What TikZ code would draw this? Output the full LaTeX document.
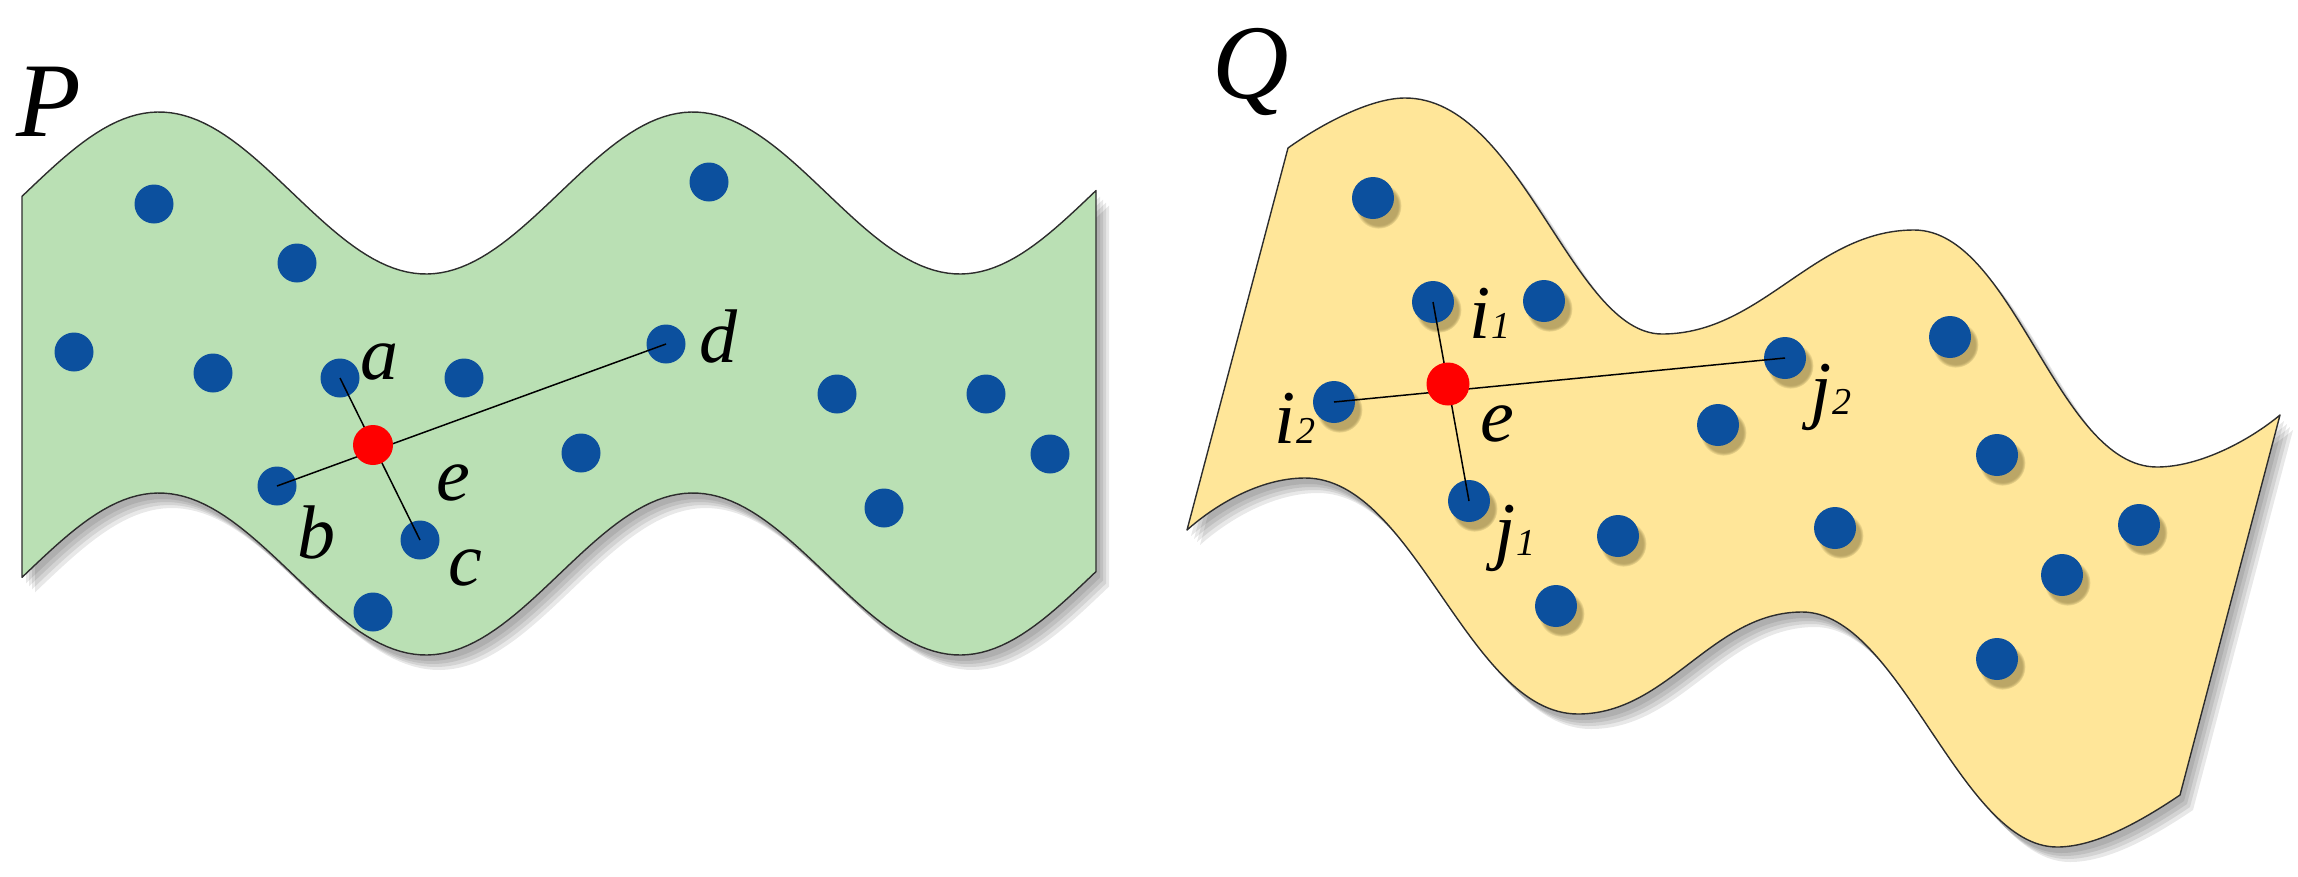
\documentclass[tikz,border=0pt]{standalone}
\usepackage{fontspec}
\setmainfont{Liberation Serif}
\usetikzlibrary{shadows}
\definecolor{pgreen}{RGB}{186,224,180}
\definecolor{qyellow}{RGB}{255,230,153}
\definecolor{dotblue}{RGB}{12,80,158}
\definecolor{edgegray}{RGB}{45,45,45}
\definecolor{qshadow}{RGB}{105,90,40}
\newcommand\pathP{plot[domain=22:1096,samples=160] (\x,{193-81*cos(0.6742*(\x-159))}) -- plot[domain=22:1096,samples=160] ({1118-\x},{574-81*cos(0.6742*(959-\x))}) -- cycle}
\newcommand\pathQ{(1288,148) .. controls (1320,125) and (1370,98) .. (1405,98)
  .. controls (1521,98) and (1572,334) .. (1662,334)
  .. controls (1762,334) and (1814,230) .. (1914,230)
  .. controls (2014,230) and (2057,467) .. (2157,467)
  .. controls (2200,467) and (2250,440) .. (2280,415)
  -- (2180,795)
  .. controls (2140,822) and (2095,847) .. (2057,847)
  .. controls (1960,847) and (1900,612) .. (1802,612)
  .. controls (1712,612) and (1668,714) .. (1578,714)
  .. controls (1468,714) and (1415,478) .. (1305,478)
  .. controls (1260,478) and (1215,505) .. (1187,530)
  -- cycle}
\newcommand\sbs[1]{{\fontsize{38}{40}\selectfont #1}}
\begin{document}
\begin{tikzpicture}[x=1pt,y=-1pt,
  region/.style={draw=edgegray, line width=1.4pt, line join=round},
  shade/.style={fill=black, opacity=0.09},
  pdot/.style={circle, fill=dotblue, minimum size=39pt, inner sep=0pt},
  qdot/.style={circle, fill=dotblue, minimum size=42pt, inner sep=0pt,
    circular drop shadow={shadow xshift=5pt, shadow yshift=-7pt, fill=qshadow, opacity=0.45}},
  reddot/.style={circle, fill=red, minimum size=40pt, inner sep=0pt},
  link/.style={black, line width=1.5pt},
  lbl/.style={font=\fontsize{76}{80}\selectfont\itshape, inner sep=0pt},
  big/.style={font=\fontsize{106}{110}\selectfont\itshape, inner sep=0pt}]
\useasboundingbox (0,0) rectangle (2298,876);
% shadows of the regions
\foreach \s in {4,7,10,13} {
  \begin{scope}[shift={(\s,\s+2)}]
    \path[shade] \pathP;
    \path[shade] \pathQ;
  \end{scope}
}
% regions
\path[region, fill=pgreen] \pathP;
\path[region, fill=qyellow] \pathQ;
% P points
\node[pdot] (p1) at (154,204) {};
\node[pdot] (p2) at (297,263) {};
\node[pdot] (p3) at (709,182) {};
\node[pdot] (p4) at (74,352) {};
\node[pdot] (p5) at (213,373) {};
\node[pdot] (pa) at (340,378) {};
\node[pdot] (p7) at (464,378) {};
\node[pdot] (pd) at (666,344) {};
\node[pdot] (p9) at (581,453) {};
\node[pdot] (pb) at (277,486) {};
\node[pdot] (pc) at (420,540) {};
\node[pdot] (p12) at (373,612) {};
\node[pdot] (p13) at (837,394) {};
\node[pdot] (p14) at (986,394) {};
\node[pdot] (p15) at (1050,454) {};
\node[pdot] (p16) at (884,508) {};
\draw[link] (pa.center) -- (pc.center);
\draw[link] (pb.center) -- (pd.center);
\node[reddot] (pe) at (373,445) {};
% Q points
\node[qdot] (q1) at (1373,198) {};
\node[qdot] (qi1) at (1433,302) {};
\node[qdot] (q3) at (1544,301) {};
\node[qdot] (qi2) at (1334,402) {};
\node[qdot] (qj1) at (1469,501) {};
\node[qdot] (q6) at (1556,606) {};
\node[qdot] (qj2) at (1785,358) {};
\node[qdot] (q8) at (1950,337) {};
\node[qdot] (q9) at (1718,425) {};
\node[qdot] (q10) at (1997,455) {};
\node[qdot] (q11) at (1618,536) {};
\node[qdot] (q12) at (1835,528) {};
\node[qdot] (q13) at (2139,525) {};
\node[qdot] (q14) at (2062,575) {};
\node[qdot] (q15) at (1997,659) {};
\draw[link] (qi1.center) -- (qj1.center);
\draw[link] (qi2.center) -- (qj2.center);
\node[reddot, minimum size=43pt] (qe) at (1448,384) {};
% labels
\node[big] (lP) at (49,102) {P};
\node[big] (lQ) at (1251,72) {Q};
\node[lbl] (la) at (379,362) {a};
\node[lbl] (ld) at (718,337) {d};
\node[lbl] (le) at (453,483) {e};
\node[lbl] (lb) at (316,532) {b};
\node[lbl] (lc) at (465,568) {c};
\node[lbl] (li1) at (1490,313) {i\sbs{1}};
\node[lbl] (li2) at (1295,418) {i\sbs{2}};
\node[lbl] (lqe) at (1497,424) {e};
\node[lbl] (lj1) at (1515,538) {j\sbs{1}};
\node[lbl] (lj2) at (1831,397) {j\sbs{2}};
\end{tikzpicture}
\end{document}
